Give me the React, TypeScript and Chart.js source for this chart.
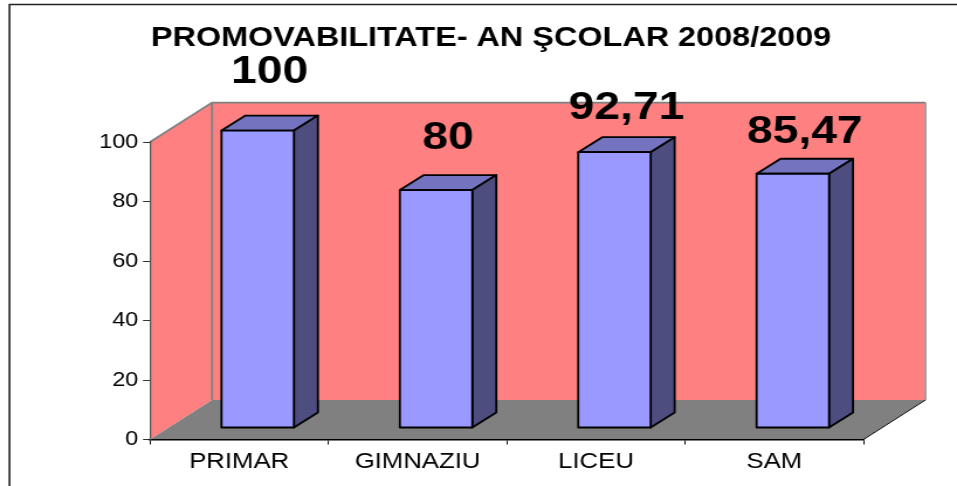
import React, { useEffect, useRef } from "react";
import { Chart, registerables } from "chart.js";

Chart.register(...registerables);

const categories = ["PRIMAR", "GIMNAZIU", "LICEU", "SAM"];
const values = [100, 80, 92.71, 85.47];
const titleText = "PROMOVABILITATE- AN ŞCOLAR 2008/2009";

// The reference is a horizontally stretched picture: the canvas is drawn narrower and widened by CSS.
const CANVAS_W = 818;
const CANVAS_H = 486;
const STRETCH = 957 / CANVAS_W;
const px = (screenX: number) => screenX / STRETCH;

const FONT = "'Liberation Sans', Arial, sans-serif";
const WALL = "#FF8080";
const FLOOR = "#808080";
const FRONT = "#9999FF";
const TOP = "#7373BF";
const SIDE = "#4D4D80";

const WALL_DX = px(62);
const WALL_DY = 39.5;
const BAR_SHIFT_X = px(18.5);
const BAR_SHIFT_Y = -11.5;
const BAR_DX = px(24);
const BAR_DY = 15;
const LABEL_LIFT = [48, 41, 33, 31];

const poly = (ctx: CanvasRenderingContext2D, pts: number[][]) => {
  ctx.beginPath();
  pts.forEach(([x, y], i) => (i ? ctx.lineTo(x, y) : ctx.moveTo(x, y)));
  ctx.closePath();
};

const scenePlugin = {
  id: "scene",
  afterLayout(chart: any) {
    // the y axis is narrower than its labels so the title centres like the reference; keep labels unclipped
    chart.scales.y.left = 0;
  },
  beforeDraw(chart: any) {
    const { ctx } = chart;
    const { left, right, top, bottom } = chart.chartArea;
    ctx.save();
    ctx.fillStyle = "#ffffff";
    ctx.fillRect(0, 0, CANVAS_W, CANVAS_H);
    // outer frame
    ctx.strokeStyle = "#222222";
    ctx.lineWidth = 1.6;
    ctx.beginPath();
    ctx.moveTo(px(9.5), CANVAS_H);
    ctx.lineTo(px(9.5), 4.5);
    ctx.lineTo(CANVAS_W, 4.5);
    ctx.stroke();
    // back wall
    const bl = left + WALL_DX;
    const br = right + WALL_DX;
    const bt = top - WALL_DY;
    const bb = bottom - WALL_DY;
    ctx.fillStyle = WALL;
    ctx.fillRect(bl, bt, br - bl, bb - bt);
    // left wall
    poly(ctx, [[left, top], [bl, bt], [bl, bb], [left, bottom]]);
    ctx.fill();
    // floor
    ctx.fillStyle = FLOOR;
    poly(ctx, [[left, bottom], [bl, bb], [br, bb], [right, bottom]]);
    ctx.fill();
    // wall edges
    ctx.strokeStyle = "#808080";
    ctx.lineWidth = 1.8;
    ctx.beginPath();
    ctx.moveTo(left, top);
    ctx.lineTo(bl, bt);
    ctx.lineTo(br, bt);
    ctx.moveTo(bl, bt);
    ctx.lineTo(bl, bb);
    ctx.stroke();
    ctx.strokeStyle = "#a0a0a0";
    ctx.beginPath();
    ctx.moveTo(br, bt);
    ctx.lineTo(br, bb);
    ctx.stroke();
    ctx.strokeStyle = "#111111";
    ctx.lineWidth = 1;
    ctx.beginPath();
    ctx.moveTo(right, bottom);
    ctx.lineTo(br, bb);
    ctx.stroke();
    ctx.restore();
  },
  beforeDatasetsDraw(chart: any) {
    const { ctx } = chart;
    ctx.save();
    ctx.translate(BAR_SHIFT_X, BAR_SHIFT_Y);
    chart.getDatasetMeta(0).data.forEach((bar: any) => {
      const { x, y, width, base } = bar.getProps(["x", "y", "width", "base"], true);
      const l = x - width / 2;
      const r = x + width / 2;
      ctx.strokeStyle = "#000000";
      ctx.lineWidth = 1.8;
      ctx.lineJoin = "round";
      ctx.fillStyle = TOP;
      poly(ctx, [[l, y], [l + BAR_DX, y - BAR_DY], [r + BAR_DX, y - BAR_DY], [r, y]]);
      ctx.fill();
      ctx.stroke();
      ctx.fillStyle = SIDE;
      poly(ctx, [[r, y], [r + BAR_DX, y - BAR_DY], [r + BAR_DX, base - BAR_DY], [r, base]]);
      ctx.fill();
      ctx.stroke();
    });
  },
  afterDatasetsDraw(chart: any) {
    const { ctx } = chart;
    // outline of the library's bars, centred on their edges so that it meets the 3D faces
    chart.getDatasetMeta(0).data.forEach((bar: any) => {
      const { x, y, width, base } = bar.getProps(["x", "y", "width", "base"], true);
      ctx.strokeStyle = "#000000";
      ctx.lineWidth = 1.8;
      ctx.lineJoin = "round";
      ctx.strokeRect(x - width / 2, y, width, base - y);
    });
    ctx.restore();
    ctx.save();
    ctx.fillStyle = "#000000";
    ctx.font = `bold 39.5px ${FONT}`;
    ctx.textAlign = "center";
    ctx.textBaseline = "alphabetic";
    chart.getDatasetMeta(0).data.forEach((bar: any, i: number) => {
      const { x, y } = bar.getProps(["x", "y"], true);
      const label = String(values[i]).replace(".", ",");
      ctx.fillText(label, x + BAR_SHIFT_X + BAR_DX / 2, y + BAR_SHIFT_Y - LABEL_LIFT[i]);
    });
    ctx.restore();
  },
};

export default function App() {
  const ref = useRef<HTMLCanvasElement>(null);
  useEffect(() => {
    const chart = new Chart(ref.current as HTMLCanvasElement, {
      type: "bar",
      data: {
        labels: categories,
        datasets: [
          {
            data: values,
            backgroundColor: FRONT,
            borderWidth: 0,
            barPercentage: 0.406,
            categoryPercentage: 1,
            clip: false,
          } as any,
        ],
      },
      options: {
        responsive: false,
        animation: false,
        devicePixelRatio: 1,
        layout: { padding: { left: px(118.6), right: CANVAS_W - px(863.5), top: 0, bottom: 0 } },
        plugins: {
          legend: { display: false },
          tooltip: { enabled: false },
          title: {
            display: true,
            text: titleText,
            color: "#000000",
            font: { family: FONT, size: 27.7, weight: "bold" },
            padding: { top: 22, bottom: 86.8 },
          },
        },
        scales: {
          x: {
            offset: true,
            grid: { display: true, offset: true, drawOnChartArea: false, color: "#111111", tickLength: 5, tickWidth: 1 },
            border: { display: true, color: "#000000", width: 1.5 },
            ticks: { color: "#000000", font: { family: FONT, size: 22 }, padding: 4, maxRotation: 0, autoSkip: false },
            afterFit: (s: any) => {
              s.height = 46.5;
            },
          },
          y: {
            min: 0,
            max: 100,
            grid: { display: true, drawOnChartArea: false, color: "#333333", tickLength: 6, tickWidth: 1 },
            border: { display: true, color: "#555555", width: 1.2 },
            ticks: { stepSize: 20, color: "#000000", font: { family: FONT, size: 20 }, padding: 4 },
            afterFit: (s: any) => {
              s.width = px(150 - 118.6);
            },
          },
        },
      },
      plugins: [scenePlugin],
    } as any);
    return () => chart.destroy();
  }, []);
  return (
    <div style={{ position: "fixed", left: 0, top: 0, width: 957, height: 486, overflow: "hidden", background: "#fff" }}>
      <canvas
        ref={ref}
        width={CANVAS_W}
        height={CANVAS_H}
        style={{ display: "block", transform: `scaleX(${STRETCH})`, transformOrigin: "0 0" }}
      />
    </div>
  );
}
